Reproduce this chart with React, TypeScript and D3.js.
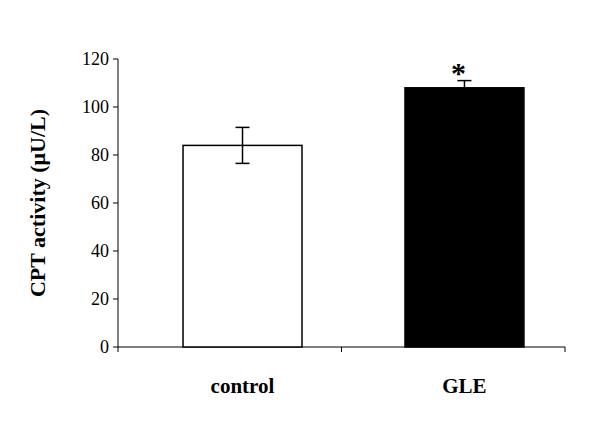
import React from 'react';
import * as d3 from 'd3';

const groups = ["control", "GLE"];
const means = [84, 108];
const errors = [7.5, 3];
const fills = ["#ffffff", "#000000"];
const yTicks = [0, 20, 40, 60, 80, 100, 120];

const width = 604;
const height = 439;
const margin = { top: 59, right: 39, bottom: 92, left: 118 };

export default function App() {
    const x = d3.scaleBand<string>()
        .domain(groups)
        .range([margin.left, width - margin.right])
        .paddingInner(0.464)
        .paddingOuter(0.239)
        .align(0.613);
    const y = d3.scaleLinear().domain([0, 120]).range([height - margin.bottom, margin.top]);
    const y0 = y(0);
    const font = "'Liberation Serif', 'Times New Roman', serif";
    const sepX = [margin.left, (margin.left + width - margin.right) / 2, width - margin.right];

    return (
        <svg width={width} height={height} style={{ position: 'absolute', left: 0, top: 0, background: '#fff' }} fontFamily={font}>
            {/* y axis */}
            <line x1={margin.left} x2={margin.left} y1={y(120)} y2={y0} stroke="#000" />
            {yTicks.map(t => (
                <g key={t}>
                    <line x1={margin.left - 5} x2={margin.left} y1={y(t)} y2={y(t)} stroke="#000" />
                    <text x={margin.left - 9} y={y(t)} dy="0.35em" textAnchor="end" fontSize={18}>{t}</text>
                </g>
            ))}
            {/* x axis */}
            <line x1={margin.left} x2={width - margin.right} y1={y0} y2={y0} stroke="#000" />
            {sepX.map((sx, i) => (
                <line key={i} x1={sx} x2={sx} y1={y0} y2={y0 + 5} stroke="#000" />
            ))}
            {groups.map((g, i) => {
                const bx = x(g)!;
                const cx = bx + x.bandwidth() / 2;
                return (
                    <g key={g}>
                        <rect x={bx} y={y(means[i])} width={x.bandwidth()} height={y0 - y(means[i])}
                            fill={fills[i]} stroke="#000" strokeWidth={1.5} />
                        <line x1={cx} x2={cx} y1={y(means[i] + errors[i])} y2={y(means[i] - errors[i])} stroke="#000" strokeWidth={1.5} />
                        <line x1={cx - 7} x2={cx + 7} y1={y(means[i] + errors[i])} y2={y(means[i] + errors[i])} stroke="#000" strokeWidth={1.5} />
                        <line x1={cx - 7} x2={cx + 7} y1={y(means[i] - errors[i])} y2={y(means[i] - errors[i])} stroke="#000" strokeWidth={1.5} />
                        <text x={cx} y={393} textAnchor="middle" fontSize={21} fontWeight="bold">{g}</text>
                    </g>
                );
            })}
            <text x={x("GLE")! + x.bandwidth() / 2 - 6} y={y(means[1] + errors[1]) + 2} textAnchor="middle" fontSize={30} fontWeight="bold">*</text>
            <text transform={`translate(45, ${(y(120) + y0) / 2}) rotate(-90)`} textAnchor="middle" fontSize={22} fontWeight="bold">CPT activity (μU/L)</text>
        </svg>
    );
}
